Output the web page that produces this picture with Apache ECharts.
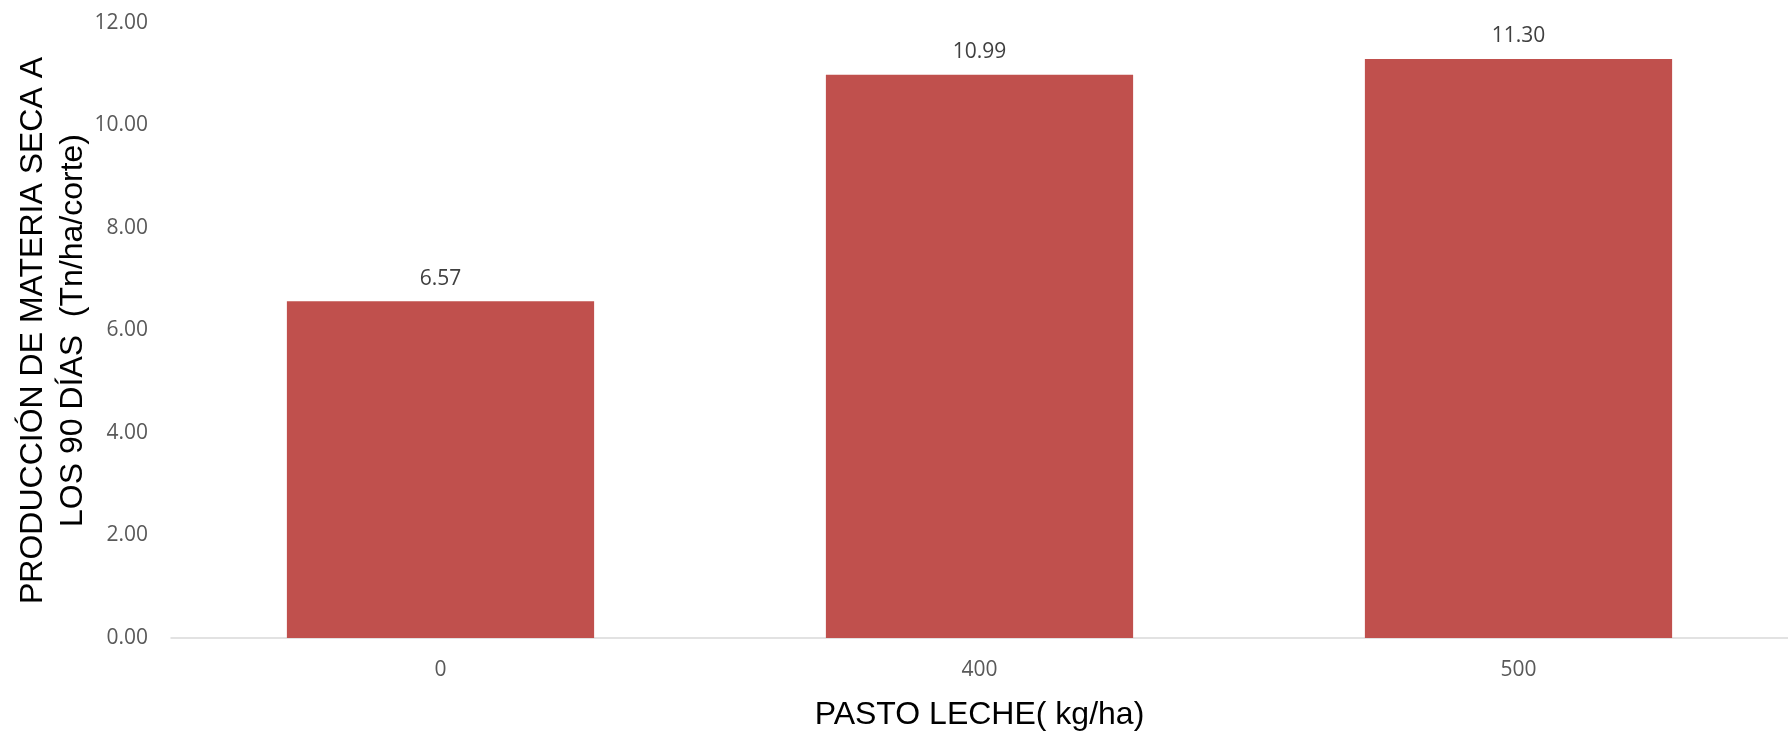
<!DOCTYPE html>
<html>
<head>
<meta charset="utf-8">
<script src="https://cdn.jsdelivr.net/npm/echarts@6/dist/echarts.min.js"></script>
<style>
  html, body { margin: 0; padding: 0; background: #ffffff; }
  #chart { width: 1788px; height: 731px; }
</style>
</head>
<body>
<div id="chart"></div>
<script>
// Fertilizer dose (kg/ha) and dry-matter yield at 90 days (Tn/ha/corte)
const categories = ['0', '400', '500'];
const yieldValues = [6.57, 10.99, 11.30];
const yTicks = { min: 0, max: 12, interval: 2 };

const xTitle = 'PASTO LECHE( kg/ha)';
const yTitle = 'PRODUCCIÓN DE MATERIA SECA A\nLOS 90 DÍAS  (Tn/ha/corte)';

const chart = echarts.init(document.getElementById('chart'), null, { renderer: 'canvas' });

chart.setOption({
  animation: false,
  backgroundColor: '#ffffff',
  grid: {
    left: 171,
    right: 0,
    top: 23,
    bottom: 93,
    containLabel: false,
    outerBoundsMode: 'none'
  },
  xAxis: {
    type: 'category',
    data: categories,
    name: xTitle,
    nameLocation: 'middle',
    nameGap: 61,
    nameTextStyle: {
      fontFamily: 'Liberation Sans',
      fontSize: 32,
      color: '#000000'
    },
    axisLine: { show: true, lineStyle: { color: '#d9d9d9', width: 1.5 } },
    axisTick: { show: false },
    axisLabel: {
      margin: 22,
      fontFamily: 'Open Sans',
      fontSize: 21,
      color: '#595959'
    },
    splitLine: { show: false }
  },
  yAxis: {
    type: 'value',
    min: yTicks.min,
    max: yTicks.max,
    interval: yTicks.interval,
    name: yTitle,
    nameLocation: 'middle',
    nameGap: 78,
    nameMoveOverlap: false,
    nameTextStyle: {
      fontFamily: 'Liberation Sans',
      fontSize: 32,
      lineHeight: 40,
      color: '#000000',
      align: 'center'
    },
    axisLine: { show: false },
    axisTick: { show: false },
    splitLine: { show: false },
    axisLabel: {
      margin: 23,
      padding: [4, 0, 0, 0],
      fontFamily: 'Open Sans',
      fontSize: 21,
      color: '#595959',
      formatter: v => v.toFixed(2)
    }
  },
  series: [{
    type: 'bar',
    data: yieldValues,
    barWidth: '57%',
    itemStyle: { color: '#c0504d' },
    label: {
      show: true,
      position: 'top',
      distance: 12,
      fontFamily: 'Open Sans',
      fontSize: 21,
      color: '#404040',
      formatter: p => p.value.toFixed(2)
    }
  }]
});
</script>
</body>
</html>
